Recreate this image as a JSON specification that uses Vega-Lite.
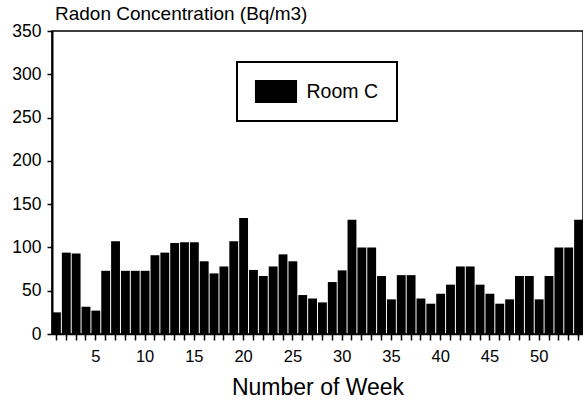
{
  "$schema": "https://vega.github.io/schema/vega-lite/v6.json",
  "width": 531,
  "height": 303,
  "autosize": "none",
  "padding": {"left": 52, "top": 31, "right": 0, "bottom": 70},
  "background": "white",
  "title": {"text": "Radon Concentration (Bq/m3)", "anchor": "start", "frame": "group", "fontSize": 19, "fontWeight": "normal", "font": "Liberation Sans", "color": "black", "dx": 3, "offset": -2},
  "data": {"values": [
    {"week": 1, "radon": 25, "room": "Room C"},
    {"week": 2, "radon": 94, "room": "Room C"},
    {"week": 3, "radon": 93, "room": "Room C"},
    {"week": 4, "radon": 31.5, "room": "Room C"},
    {"week": 5, "radon": 27, "room": "Room C"},
    {"week": 6, "radon": 73, "room": "Room C"},
    {"week": 7, "radon": 107, "room": "Room C"},
    {"week": 8, "radon": 73, "room": "Room C"},
    {"week": 9, "radon": 73, "room": "Room C"},
    {"week": 10, "radon": 73, "room": "Room C"},
    {"week": 11, "radon": 91, "room": "Room C"},
    {"week": 12, "radon": 94, "room": "Room C"},
    {"week": 13, "radon": 105, "room": "Room C"},
    {"week": 14, "radon": 106, "room": "Room C"},
    {"week": 15, "radon": 106, "room": "Room C"},
    {"week": 16, "radon": 84, "room": "Room C"},
    {"week": 17, "radon": 70, "room": "Room C"},
    {"week": 18, "radon": 78, "room": "Room C"},
    {"week": 19, "radon": 107, "room": "Room C"},
    {"week": 20, "radon": 134, "room": "Room C"},
    {"week": 21, "radon": 74, "room": "Room C"},
    {"week": 22, "radon": 67, "room": "Room C"},
    {"week": 23, "radon": 78, "room": "Room C"},
    {"week": 24, "radon": 92, "room": "Room C"},
    {"week": 25, "radon": 84, "room": "Room C"},
    {"week": 26, "radon": 45, "room": "Room C"},
    {"week": 27, "radon": 41, "room": "Room C"},
    {"week": 28, "radon": 36.5, "room": "Room C"},
    {"week": 29, "radon": 60, "room": "Room C"},
    {"week": 30, "radon": 73.5, "room": "Room C"},
    {"week": 31, "radon": 132, "room": "Room C"},
    {"week": 32, "radon": 100, "room": "Room C"},
    {"week": 33, "radon": 100, "room": "Room C"},
    {"week": 34, "radon": 67, "room": "Room C"},
    {"week": 35, "radon": 40, "room": "Room C"},
    {"week": 36, "radon": 68, "room": "Room C"},
    {"week": 37, "radon": 68, "room": "Room C"},
    {"week": 38, "radon": 41, "room": "Room C"},
    {"week": 39, "radon": 35, "room": "Room C"},
    {"week": 40, "radon": 46.5, "room": "Room C"},
    {"week": 41, "radon": 57, "room": "Room C"},
    {"week": 42, "radon": 78, "room": "Room C"},
    {"week": 43, "radon": 78, "room": "Room C"},
    {"week": 44, "radon": 57, "room": "Room C"},
    {"week": 45, "radon": 46.5, "room": "Room C"},
    {"week": 46, "radon": 35, "room": "Room C"},
    {"week": 47, "radon": 40, "room": "Room C"},
    {"week": 48, "radon": 67, "room": "Room C"},
    {"week": 49, "radon": 67, "room": "Room C"},
    {"week": 50, "radon": 40, "room": "Room C"},
    {"week": 51, "radon": 67, "room": "Room C"},
    {"week": 52, "radon": 100, "room": "Room C"},
    {"week": 53, "radon": 100, "room": "Room C"},
    {"week": 54, "radon": 132, "room": "Room C"}
  ]},
  "mark": {"type": "bar", "color": "black"},
  "encoding": {
    "x": {
      "field": "week",
      "type": "ordinal",
      "scale": {"paddingInner": 0.1, "paddingOuter": 0},
      "axis": {
        "title": "Number of Week",
        "titleFontSize": 23,
        "titleFontWeight": "normal",
        "titleColor": "black",
        "titlePadding": 12,
        "labelAngle": 0,
        "labelFontSize": 16.5,
        "labelColor": "black",
        "labelPadding": 8,
        "labelExpr": "datum.value % 5 === 0 ? datum.label : ''",
        "labelOverlap": false,
        "tickSize": 6,
        "tickColor": "black",
        "tickWidth": 1.5,
        "domainColor": "black",
        "domainWidth": 1.5,
        "grid": false
      }
    },
    "y": {
      "field": "radon",
      "type": "quantitative",
      "scale": {"domain": [0, 350], "nice": false},
      "axis": {
        "title": null,
        "values": [0, 50, 100, 150, 200, 250, 300, 350],
        "labelFontSize": 17.5,
        "labelColor": "black",
        "labelPadding": 6,
        "tickSize": 5,
        "tickColor": "black",
        "tickWidth": 1.5,
        "domainColor": "black",
        "domainWidth": 2,
        "grid": false
      }
    },
    "color": {
      "field": "room",
      "type": "nominal",
      "scale": {"range": ["black"]},
      "legend": {
        "title": null,
        "orient": "none",
        "legendX": 185,
        "legendY": 31,
        "strokeColor": "black",
        "fillColor": "white",
        "padding": 18,
        "symbolType": "M-1.83,-1H1.83V1H-1.83Z",
        "symbolSize": 529,
        "symbolStrokeWidth": 0,
        "symbolOffset": 9.5,
        "labelOffset": 19,
        "labelFontSize": 19.5,
        "labelColor": "black",
        "encode": {"legend": {"update": {"strokeWidth": {"value": 2}}}}
      }
    }
  },
  "config": {
    "font": "Liberation Sans",
    "view": {"stroke": "black", "strokeWidth": 1.5}
  }
}
